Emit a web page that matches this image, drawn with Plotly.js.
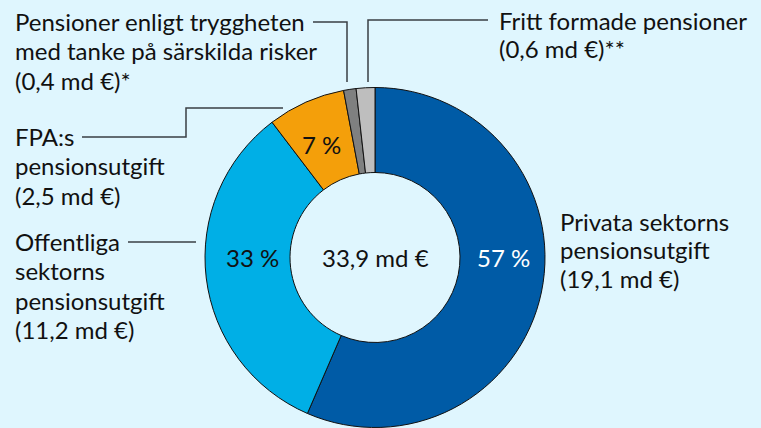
<!DOCTYPE html>
<html>
<head>
<meta charset="utf-8">
<script src="https://cdn.plot.ly/plotly-3.0.1.min.js"></script>
<style>html,body{margin:0;padding:0;background:#dff6fe;}#chart{width:761px;height:428px;}</style>
</head>
<body>
<div id="chart"></div>
<script>
// ---- data ----
const categories = [
  'Privata sektorns pensionsutgift',
  'Offentliga sektorns pensionsutgift',
  'FPA:s pensionsutgift',
  'Pensioner enligt tryggheten med tanke på särskilda risker',
  'Fritt formade pensioner'
];
const values = [19.1, 11.2, 2.5, 0.4, 0.6];
const sliceText = ['57 %', '33 %', '7 %', '', ''];
const totalLabel = '33,9 md €';
const labelLines = [
  ['Privata sektorns', 'pensionsutgift', '(19,1 md €)'],
  ['Offentliga', 'sektorns', 'pensionsutgift', '(11,2 md €)'],
  ['FPA:s', 'pensionsutgift', '(2,5 md €)'],
  ['Pensioner enligt tryggheten', 'med tanke på särskilda risker', '(0,4 md €)*'],
  ['Fritt formade pensioner', '(0,6 md €)**']
];

// ---- styling / layout ----
const W = 761, H = 428;
const colors = ['#005ba6', '#00afe6', '#f49f0a', '#7f8080', '#bebebe'];
const textColors = ['#ffffff', '#111111', '#111111', '#111111', '#111111'];
const FONT = 'Lato, "Open Sans", sans-serif';
const FS = 24;
const TXT = '#111111';
const cx = 375, cy = 257.5, R = 170;

// label positions: left x, first line center y, line step
const labelPos = [
  {x: 558, y: 221, dy: 28.5},
  {x: 13, y: 241, dy: 29.5},
  {x: 13, y: 136, dy: 29.5},
  {x: 13, y: 21, dy: 29.5},
  {x: 497, y: 20, dy: 28.5}
];
// in-ring percentage label centers (px)
const slicePos = [[503, 257], [252, 257], [321, 144]];
// connector polylines in px
const connectors = [
  [[313, 22], [347, 22], [347, 82]],
  [[368, 82], [368, 20], [488, 20]],
  [[82, 137], [186, 137], [186, 108], [283, 108]],
  [[128, 242], [196, 242]]
];

const px = x => x / W;
const py = y => 1 - y / H;

const annotations = [];
labelLines.forEach((lines, i) => {
  const p = labelPos[i];
  lines.forEach((t, j) => {
    annotations.push({
      xref: 'paper', yref: 'paper', x: px(p.x), y: py(p.y + j * p.dy),
      xanchor: 'left', yanchor: 'middle', showarrow: false, text: t,
      font: {family: FONT, size: FS, color: TXT}
    });
  });
});
slicePos.forEach((p, i) => {
  annotations.push({
    xref: 'paper', yref: 'paper', x: px(p[0]), y: py(p[1]), xanchor: 'center', yanchor: 'middle',
    showarrow: false, text: sliceText[i], font: {family: FONT, size: FS, color: textColors[i]}
  });
});
annotations.push({
  xref: 'paper', yref: 'paper', x: px(cx), y: py(cy), xanchor: 'center', yanchor: 'middle',
  showarrow: false, text: totalLabel, font: {family: FONT, size: FS, color: TXT}
});

const shapes = [];
connectors.forEach(pts => {
  const path = pts.map((p, k) => (k ? 'L' : 'M') + px(p[0]) + ',' + py(p[1])).join(' ');
  shapes.push({type: 'path', xref: 'paper', yref: 'paper', path: path,
    line: {color: '#3a3f44', width: 1.5}});
});

const trace = {
  type: 'pie',
  labels: categories,
  values: values,
  textinfo: 'none',
  hole: 0.5,
  sort: false,
  direction: 'clockwise',
  rotation: 0,
  marker: {colors: colors, line: {color: '#111111', width: 1}},
  domain: {x: [(cx - R) / W, (cx + R) / W], y: [(H - cy - R) / H, (H - cy + R) / H]},
  showlegend: false,
  hoverinfo: 'label+value'
};

const layout = {
  width: W, height: H,
  margin: {l: 0, r: 0, t: 0, b: 0},
  paper_bgcolor: '#dff6fe',
  plot_bgcolor: '#dff6fe',
  showlegend: false,
  annotations: annotations,
  shapes: shapes
};

Plotly.newPlot('chart', [trace], layout, {displayModeBar: false, staticPlot: true});
</script>
</body>
</html>
